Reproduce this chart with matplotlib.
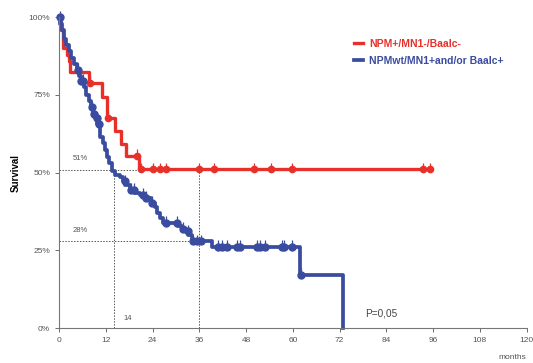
import numpy as np
import matplotlib
matplotlib.use("Agg")
import matplotlib.pyplot as plt

plt.rcParams['font.family'] = ['Liberation Sans', 'DejaVu Sans']

# Kaplan-Meier steps (months, survival %)
red_t = [0, 0.5, 1.0, 2.0, 2.5, 2.8, 7.7, 11.1, 12.3, 14.3, 15.8, 17.1, 20.6, 95.5]
red_s = [100, 96, 90, 88, 86, 82.5, 78.8, 74.5, 67.5, 63.4, 59.3, 55.5, 51.1, 51.1]
red_marks = [7.9, 12.6, 19.9, 20.9, 24.0, 25.9, 27.4, 36.0, 39.8, 50.0, 54.3, 59.9, 93.3, 95.1]

blue_t = [0, 0.3, 0.8, 1.2, 1.8, 2.5, 3.0, 3.8, 4.5, 5.0, 5.5, 6.3, 7.0, 7.6, 8.3,
          8.8, 9.3, 9.8, 10.5, 11.2, 11.7, 12.3, 12.8, 13.5, 14.3, 15.5, 16.5, 17.0,
          18.2, 19.5, 20.7, 22.0, 23.7, 24.6, 25.0, 25.9, 26.7, 30.6, 31.5, 32.3,
          33.2, 34.0, 39.2, 61.9, 72.8]
blue_s = [100, 98, 96, 93, 91, 89, 87, 85, 83, 81, 79.5, 77.5, 75, 73, 71,
          69, 67.5, 65.7, 61.6, 59.5, 57.3, 55, 53, 50.4, 49.4, 48.7, 47.2, 46,
          44.5, 43.5, 42.9, 42, 40.2, 39, 37, 35.4, 33.8, 32.7, 31.8, 31.1,
          30, 27.9, 26.2, 17.1, 0]
blue_marks = [0.1, 4.9, 5.5, 6.0, 8.5, 9.0, 9.6, 10.2, 16.9, 18.5, 19.2, 21.5, 22.4,
              23.8, 27.4, 30.3, 31.8, 33.0, 34.3, 35.5, 36.5, 40.9, 41.7, 43.0,
              45.6, 46.4, 50.7, 51.6, 52.9, 57.2, 57.8, 59.7, 62.0]

x_ticks = [0, 12, 24, 36, 48, 60, 72, 84, 96, 108, 120]
y_ticks = [0, 25, 50, 75, 100]
y_labels = ['0%', '25%', '50%', '75%', '100%']

red = '#e8302a'
blue = '#3a4ca0'


def step_at(times, surv, t):
    i = np.searchsorted(times, t, side='right') - 1
    return np.array(surv)[i]


fig = plt.figure(figsize=(5.33, 3.63), dpi=100)
ax = fig.add_axes([0.111, 0.0964, 0.877, 0.8559])

# median / 36-month guide lines
ax.plot([0, 36], [51, 51], ls=(0, (1.5, 1.5)), color='#555555', lw=0.7)
ax.plot([0, 36], [28, 28], ls=(0, (1.5, 1.5)), color='#555555', lw=0.7)
ax.plot([14, 14], [0, 51], ls=(0, (1.5, 1.5)), color='#555555', lw=0.7)
ax.plot([36, 36], [0, 51], ls=(0, (1.5, 1.5)), color='#555555', lw=0.7)
ax.text(3.4, 54.4, '51%', fontsize=5.5, color='#555555', va='center')
ax.text(3.4, 31.3, '28%', fontsize=5.5, color='#555555', va='center')
ax.text(16.6, 3.2, '14', fontsize=5.5, color='#555555', va='center')

ax.step(red_t, red_s, where='post', color=red, lw=2.4, label='NPM+/MN1-/Baalc-', clip_on=False)
ax.step(blue_t, blue_s, where='post', color=blue, lw=2.7,
        label='NPMwt/MN1+and/or Baalc+', clip_on=False)

ry = step_at(red_t, red_s, red_marks)
by = step_at(blue_t, blue_s, blue_marks)
ax.plot(red_marks, ry, 'o', color=red, ms=4.5, clip_on=False)
ax.plot(red_marks, ry + 1.2, '|', color=red, ms=5, mew=0.9, clip_on=False)
ax.plot(blue_marks, by, 'o', color=blue, ms=5, clip_on=False)
ax.plot(blue_marks, by + 1.2, '|', color=blue, ms=5, mew=0.9, clip_on=False)

ax.text(78.6, 4.6, 'P=0,05', fontsize=7.2, color='#444444', va='center')

ax.set_xlim(0, 120)
ax.set_ylim(0, 100)
ax.set_xticks(x_ticks)
ax.set_yticks(y_ticks)
ax.set_yticklabels(y_labels)
ax.tick_params(labelsize=6, colors='#555555', length=3, width=0.6)
for s in ['top', 'right']:
    ax.spines[s].set_visible(False)
for s in ['left', 'bottom']:
    ax.spines[s].set_color('#777777')
    ax.spines[s].set_linewidth(0.8)

ax.set_ylabel('Survival', fontsize=7, fontweight='bold')
ax.yaxis.set_label_coords(-0.082, 0.5)
ax.text(1.0, -0.085, 'months', transform=ax.transAxes, fontsize=6, color='#555555',
        ha='right', va='top')

leg = ax.legend(loc='upper left', bbox_to_anchor=(0.61, 0.96), frameon=False,
                handlelength=0.9, handletextpad=0.6, labelspacing=0.65,
                prop={'weight': 'bold', 'size': 7.5}, labelcolor='linecolor')

fig.savefig('out.png', dpi=100)
